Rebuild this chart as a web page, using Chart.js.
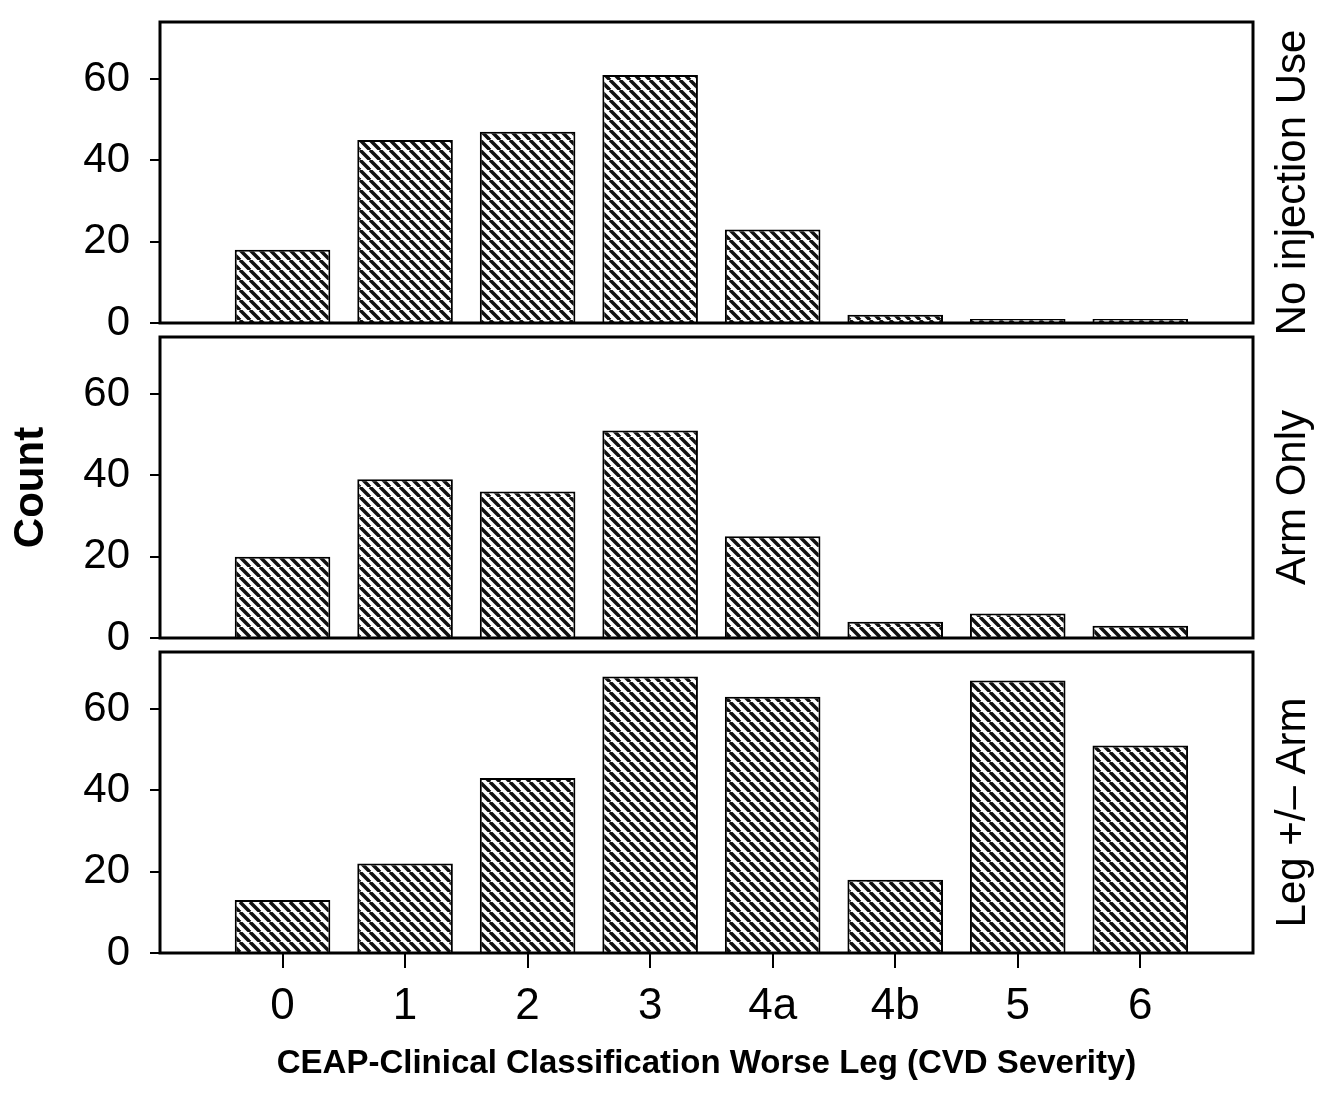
<!DOCTYPE html>
<html>
<head>
<meta charset="utf-8">
<script src="https://cdn.jsdelivr.net/npm/chart.js@4.4.0/dist/chart.umd.min.js"></script>
<style>
  html, body { margin: 0; background: #fff; overflow: hidden; }
  #wrap { position: relative; width: 1336px; height: 1093px; }
  canvas { position: absolute; left: 0; }
</style>
</head>
<body>
<div id="wrap">
  <canvas id="p1" width="1336" height="410" style="top:-30px"></canvas>
  <canvas id="p2" width="1336" height="402" style="top:287px"></canvas>
  <canvas id="p3" width="1336" height="491" style="top:602px"></canvas>
</div>
<script>
const categories = ['0', '1', '2', '3', '4a', '4b', '5', '6'];
const noInjection = [18, 45, 47, 61, 23, 2, 1, 1];
const armOnly = [20, 39, 36, 51, 25, 4, 6, 3];
const legArm = [13, 22, 43, 68, 63, 18, 67, 51];
const panelNames = ['No injection Use', 'Arm Only', 'Leg +/\u2013 Arm'];
const yTicks = [0, 10, 20, 30, 40, 50, 60, 70];
const yMax = 74;

const FONT = "'Liberation Sans', Arial, sans-serif";

// diagonal hatch fill like the scanned bars
function hatch(ctx) {
    const c = document.createElement('canvas');
    c.width = 10;
    c.height = 10;
    const g = c.getContext('2d');
    g.fillStyle = '#fff';
    g.fillRect(0, 0, 10, 10);
    g.strokeStyle = '#111';
    g.lineWidth = 3.5;
    for (let k = -1; k <= 1; k++) {
        g.beginPath();
        g.moveTo(k * 10, 0);
        g.lineTo(k * 10 + 10, 10);
        g.stroke();
    }
    return ctx.createPattern(c, 'repeat');
}

// box round the plot area + group label on the right
const panelFrame = {
    id: 'panelFrame',
    afterDraw(chart, args, opts) {
        const { ctx, chartArea: a } = chart;
        ctx.save();
        ctx.strokeStyle = '#000';
        ctx.lineWidth = 3;
        ctx.strokeRect(a.left, a.top, a.right - a.left, a.bottom - a.top);
        ctx.translate(opts.x, (a.top + a.bottom) / 2 + opts.dy);
        ctx.rotate(-Math.PI / 2);
        ctx.font = '42px ' + FONT;
        ctx.fillStyle = '#000';
        ctx.textAlign = 'center';
        ctx.textBaseline = 'middle';
        ctx.fillText(opts.text, 0, 0);
        ctx.restore();
    }
};

function makePanel(id, values, name, opts) {
    const ctx = document.getElementById(id).getContext('2d');
    return new Chart(ctx, {
        type: 'bar',
        data: {
            datasets: [{
                data: values.map((v, i) => ({ x: i, y: v })),
                backgroundColor: hatch(ctx),
                borderColor: '#000',
                borderWidth: 2,
                barPercentage: 0.78,
                categoryPercentage: 1
            }]
        },
        options: {
            responsive: false,
            animation: false,
            devicePixelRatio: 1,
            layout: { padding: { top: opts.top, bottom: opts.bottom, left: 0, right: 83 } },
            plugins: {
                legend: { display: false },
                tooltip: { enabled: false },
                panelFrame: { text: name, x: 1293, dy: 10 }
            },
            scales: {
                x: {
                    type: 'linear',
                    min: -1,
                    max: 7.92,
                    offset: false,
                    display: opts.showX,
                    afterBuildTicks: (s) => { s.ticks = categories.map((c, i) => ({ value: i })); },
                    afterFit: opts.showX ? (s) => { s.height = 140; } : undefined,
                    ticks: {
                        callback: (v) => categories[v],
                        font: { family: FONT, size: 44 },
                        color: '#000',
                        padding: 12,
                        maxRotation: 0,
                        autoSkip: false
                    },
                    grid: { offset: false, drawOnChartArea: false, drawTicks: true, tickLength: 15, color: '#000', lineWidth: 2 },
                    border: { display: false },
                    title: {
                        display: true,
                        text: 'CEAP-Clinical Classification Worse Leg (CVD Severity)',
                        font: { family: FONT, size: 33, weight: 'bold' },
                        color: '#000',
                        padding: { top: 0, bottom: 9 }
                    }
                },
                y: {
                    min: 0,
                    max: yMax,
                    afterBuildTicks: (s) => { s.ticks = yTicks.map((v) => ({ value: v })); },
                    afterFit: (s) => { s.width = 160; },
                    ticks: {
                        callback: (v) => (v % 20 === 0 ? v : ''),
                        font: { family: FONT, size: 42 },
                        color: '#000',
                        padding: 20
                    },
                    grid: { drawOnChartArea: false, tickLength: 10, color: '#000', lineWidth: 2 },
                    border: { display: false },
                    title: {
                        display: opts.showTitle,
                        text: 'Count',
                        font: { family: FONT, size: 42, weight: 'bold' },
                        color: '#000',
                        padding: { top: 6, bottom: 0 }
                    }
                }
            }
        },
        plugins: [panelFrame]
    });
}

makePanel('p1', noInjection, panelNames[0], { top: 52, bottom: 57, showX: false, showTitle: false });
makePanel('p2', armOnly, panelNames[1], { top: 50, bottom: 51, showX: false, showTitle: true });
makePanel('p3', legArm, panelNames[2], { top: 50, bottom: 0, showX: true, showTitle: false });
</script>
</body>
</html>
